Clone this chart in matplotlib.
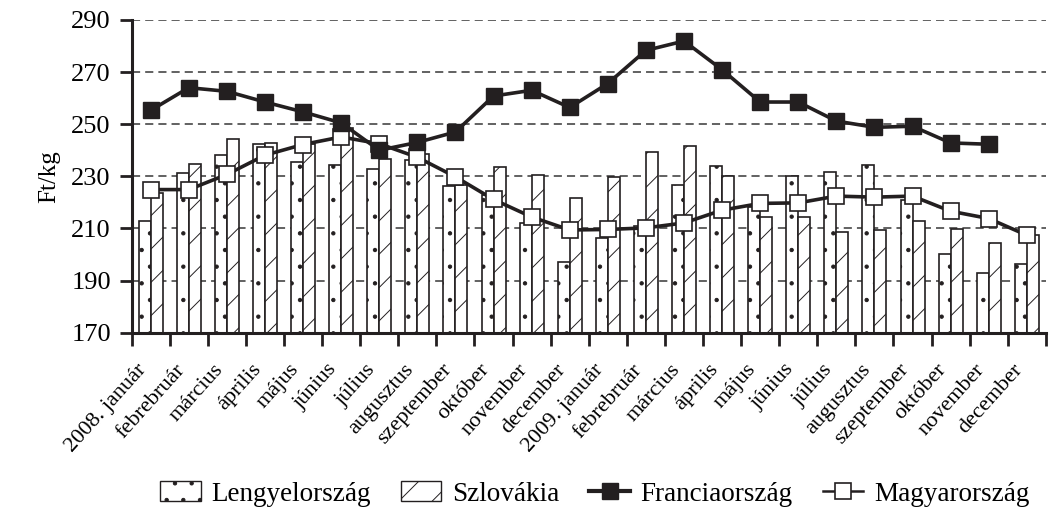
import matplotlib
matplotlib.use("Agg")
import matplotlib.pyplot as plt
from matplotlib.patches import Patch
from matplotlib.lines import Line2D
import numpy as np

months = ["2008. január", "febrebruár", "március", "április", "május", "június",
          "július", "augusztus", "szeptember", "október", "november", "december",
          "2009. január", "febrebruár", "március", "április", "május", "június",
          "július", "augusztus", "szeptember", "október", "november", "december"]

lengyel = [212.7, 231.1, 238.1, 242.3, 235.5, 234.5, 232.7, 236.2, 226.2, 222.8, 212.1, 197.1,
           206.2, 211.0, 226.6, 233.9, 218.3, 230.2, 231.6, 234.3, 220.8, 200.0, 193.0, 196.2]
szlovak = [223.6, 234.6, 244.5, 242.8, 242.3, 248.5, 236.6, 238.5, 226.6, 233.6, 230.4, 221.7,
           229.8, 239.2, 241.8, 230.2, 214.2, 214.4, 208.5, 209.3, 212.7, 209.6, 204.5, 207.4]
francia = [255.3, 264.0, 262.6, 258.5, 254.7, 250.5, 240.0, 243.0, 247.0, 260.8, 263.0, 256.4,
           265.6, 278.3, 281.9, 270.9, 258.5, 258.5, 251.2, 248.8, 249.2, 242.8, 242.3, None]
magyar = [224.9, 224.9, 230.7, 238.1, 242.2, 245.1, 242.5, 237.3, 229.8, 221.1, 214.4, 209.4,
          209.6, 210.2, 212.1, 217.0, 219.6, 219.8, 222.4, 222.0, 222.4, 216.6, 213.8, 207.4]

yticks = [170, 190, 210, 230, 250, 270, 290]

plt.rcParams['font.family'] = ['Liberation Serif', 'DejaVu Serif']
plt.rcParams['hatch.linewidth'] = 0.7

fig = plt.figure(figsize=(10.49, 5.11), dpi=100)
ax = fig.add_axes([0.1255, 0.349, 0.8715, 0.612])

x = np.arange(len(months))
w = 0.315
dark = '#231f20'

ax.bar(x - w / 2, lengyel, width=w, color='white', edgecolor=dark,
       linewidth=1.2, hatch='.', zorder=2)
ax.bar(x + w / 2, szlovak, width=w, color='white', edgecolor=dark,
       linewidth=1.2, hatch='/', zorder=2)

fr = np.array([np.nan if v is None else v for v in francia], dtype=float)
ax.plot(x, magyar, color=dark, lw=2.6, marker='s', markersize=11,
        markerfacecolor='white', markeredgecolor=dark, markeredgewidth=1.2, zorder=4)
ax.plot(x, fr, color=dark, lw=2.6, marker='s', markersize=11,
        markerfacecolor=dark, markeredgecolor=dark, zorder=5)

ax.set_ylim(170, 290)
ax.set_xlim(-0.5, len(months) - 0.5)
ax.set_yticks(yticks)
ax.set_yticklabels([str(v) for v in yticks], fontsize=19)
for v in yticks[1:]:
    ax.axhline(v, color='#555555', lw=1.3, ls=(0, (4.5, 2.8)), zorder=1)

ax.set_xticks(np.arange(-0.5, len(months) + 0.5, 1.0))
ax.set_xticklabels([])
ax.set_xticks(x, minor=True)
ax.set_xticklabels(months, minor=True, rotation=48, ha='right', fontsize=16)
ax.tick_params(axis='x', which='minor', length=0, pad=20)
ax.tick_params(axis='x', which='major', length=9, width=2, direction='out', color=dark)
ax.tick_params(axis='y', length=9, width=2, direction='out', color=dark, pad=6)

for s in ['top', 'right']:
    ax.spines[s].set_visible(False)
for s in ['left', 'bottom']:
    ax.spines[s].set_linewidth(2.2)
    ax.spines[s].set_color(dark)

ax.set_ylabel('Ft/kg', fontsize=18, labelpad=8)

handles = [
    Patch(facecolor='white', edgecolor=dark, hatch='.', linewidth=1.0, label='Lengyelország'),
    Patch(facecolor='white', edgecolor=dark, hatch='/', linewidth=1.0, label='Szlovákia'),
    Line2D([0], [0], color=dark, lw=3.0, marker='s', markersize=11,
           markerfacecolor=dark, markeredgecolor=dark, label='Franciaország'),
    Line2D([0], [0], color=dark, lw=1.8, marker='s', markersize=11,
           markerfacecolor='white', markeredgecolor=dark, markeredgewidth=1.2,
           label='Magyarország'),
]
fig.legend(handles=handles, loc='center', bbox_to_anchor=(0.567, 0.033), ncol=4,
           frameon=False, fontsize=19.5, handlelength=1.5, handleheight=0.75,
           columnspacing=1.1, handletextpad=0.4, borderpad=0.1)

fig.savefig('out.png', dpi=100)
